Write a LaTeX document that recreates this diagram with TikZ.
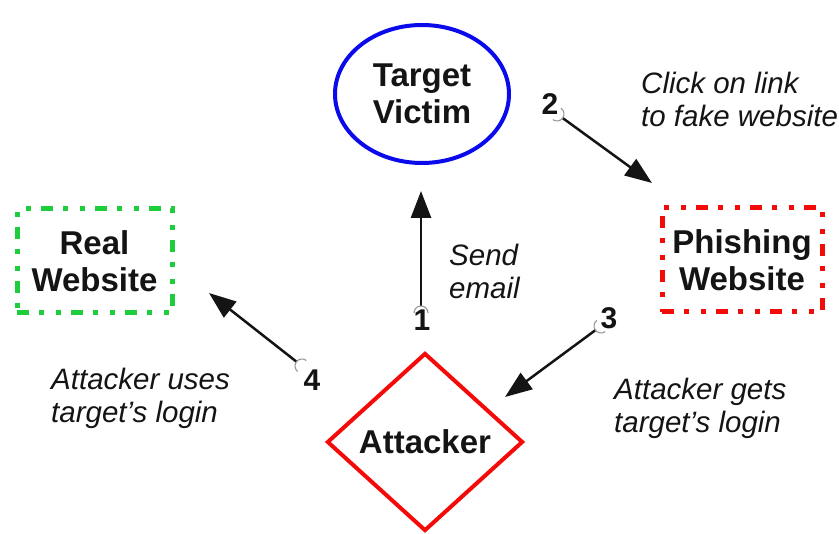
\documentclass[tikz,border=0pt]{standalone}
\usepackage{fontspec}
\setmainfont{Liberation Sans}
\usetikzlibrary{shapes.geometric,arrows.meta,calc}

\definecolor{victimblue}{RGB}{10,10,235}
\definecolor{alertred}{RGB}{245,10,10}
\definecolor{safegreen}{RGB}{30,205,60}
\definecolor{inkdark}{RGB}{20,20,20}
\definecolor{gluegray}{RGB}{150,150,150}

\tikzset{
  boldtext/.style={font=\fontsize{33}{37}\selectfont\bfseries, text=inkdark, align=center},
  notetext/.style={font=\fontsize{29.5}{33}\selectfont\itshape, text=inkdark, align=left, inner sep=0pt},
  numtext/.style={font=\fontsize{30}{34}\selectfont\bfseries, text=inkdark, inner sep=0pt},
  dashdotdot/.style={line width=5pt, dash pattern=on 12pt off 10pt on 5pt off 12pt on 5pt off 10pt},
  sitebox/.style={boldtext, rectangle, dashdotdot, inner sep=0pt},
  link/.style={line width=2.5pt, draw=inkdark, -{Triangle[length=27pt,width=20pt]}},
  glue/.style={line width=1.1pt, draw=gluegray},
}

\begin{document}
\begin{tikzpicture}[x=1pt,y=-1pt]
  \useasboundingbox (0,0) rectangle (839,534);

  % main actors
  \node[boldtext, ellipse, draw=victimblue, line width=4pt,
        minimum width=174pt, minimum height=138pt, inner sep=0pt] (victim) at (422,94) {Target\\Victim};
  \node[boldtext, diamond, draw=alertred, line width=4pt,
        minimum width=196pt, minimum height=178pt, inner sep=0pt] (attacker) at (425,442) {Attacker};
  \node[sitebox, draw=safegreen, minimum width=155pt, minimum height=104pt] (real) at (94.5,261) {Real\\Website};
  \node[sitebox, draw=alertred, minimum width=160pt, minimum height=104pt] (phish) at (742,260) {Phishing\\Website};

  % step markers and arrow end points
  \coordinate (c1) at (421,313);  \coordinate (t1) at (421,191);
  \coordinate (c2) at (557,114);  \coordinate (t2) at (652,183);
  \coordinate (c3) at (601,326);  \coordinate (t3) at (505,397);
  \coordinate (c4) at (302,366);  \coordinate (t4) at (209,293);

  \coordinate (s1) at ($(c1)+(-90:7)$);
  \coordinate (s2) at ($(c2)+(35.5:7)$);
  \coordinate (s3) at ($(c3)+(143.2:7)$);
  \coordinate (s4) at ($(c4)+(-142:7)$);

  % connectors
  \draw[link] (s1) -- (t1);
  \draw[link] (s2) -- (t2);
  \draw[link] (s3) -- (t3);
  \draw[link] (s4) -- (t4);

  % glue arcs at the start of each connector
  \draw[glue] (c1) ++(-180:7) arc[start angle=-180, end angle=0, radius=7];
  \draw[glue] (c2) ++(-54.5:7) arc[start angle=-54.5, end angle=125.5, radius=7];
  \draw[glue] (c3) ++(53.2:7) arc[start angle=53.2, end angle=233.2, radius=7];
  \draw[glue] (c4) ++(-232:7) arc[start angle=-232, end angle=-52, radius=7];

  % step numbers
  \node[numtext] (n1) at (422,320) {1};
  \node[numtext] (n2) at (550,104) {2};
  \node[numtext] (n3) at (609,318) {3};
  \node[numtext] (n4) at (312,380) {4};

  % step descriptions
  \node[notetext, anchor=west] (l1) at (449,271) {Send\\email};
  \node[notetext, anchor=west] (l2) at (641,99) {Click on link\\to fake website};
  \node[notetext, anchor=west] (l3) at (614,408) {Attacker gets\\target’s login};
  \node[notetext, anchor=west] (l4) at (51,398) {Attacker uses\\target’s login};
\end{tikzpicture}
\end{document}
